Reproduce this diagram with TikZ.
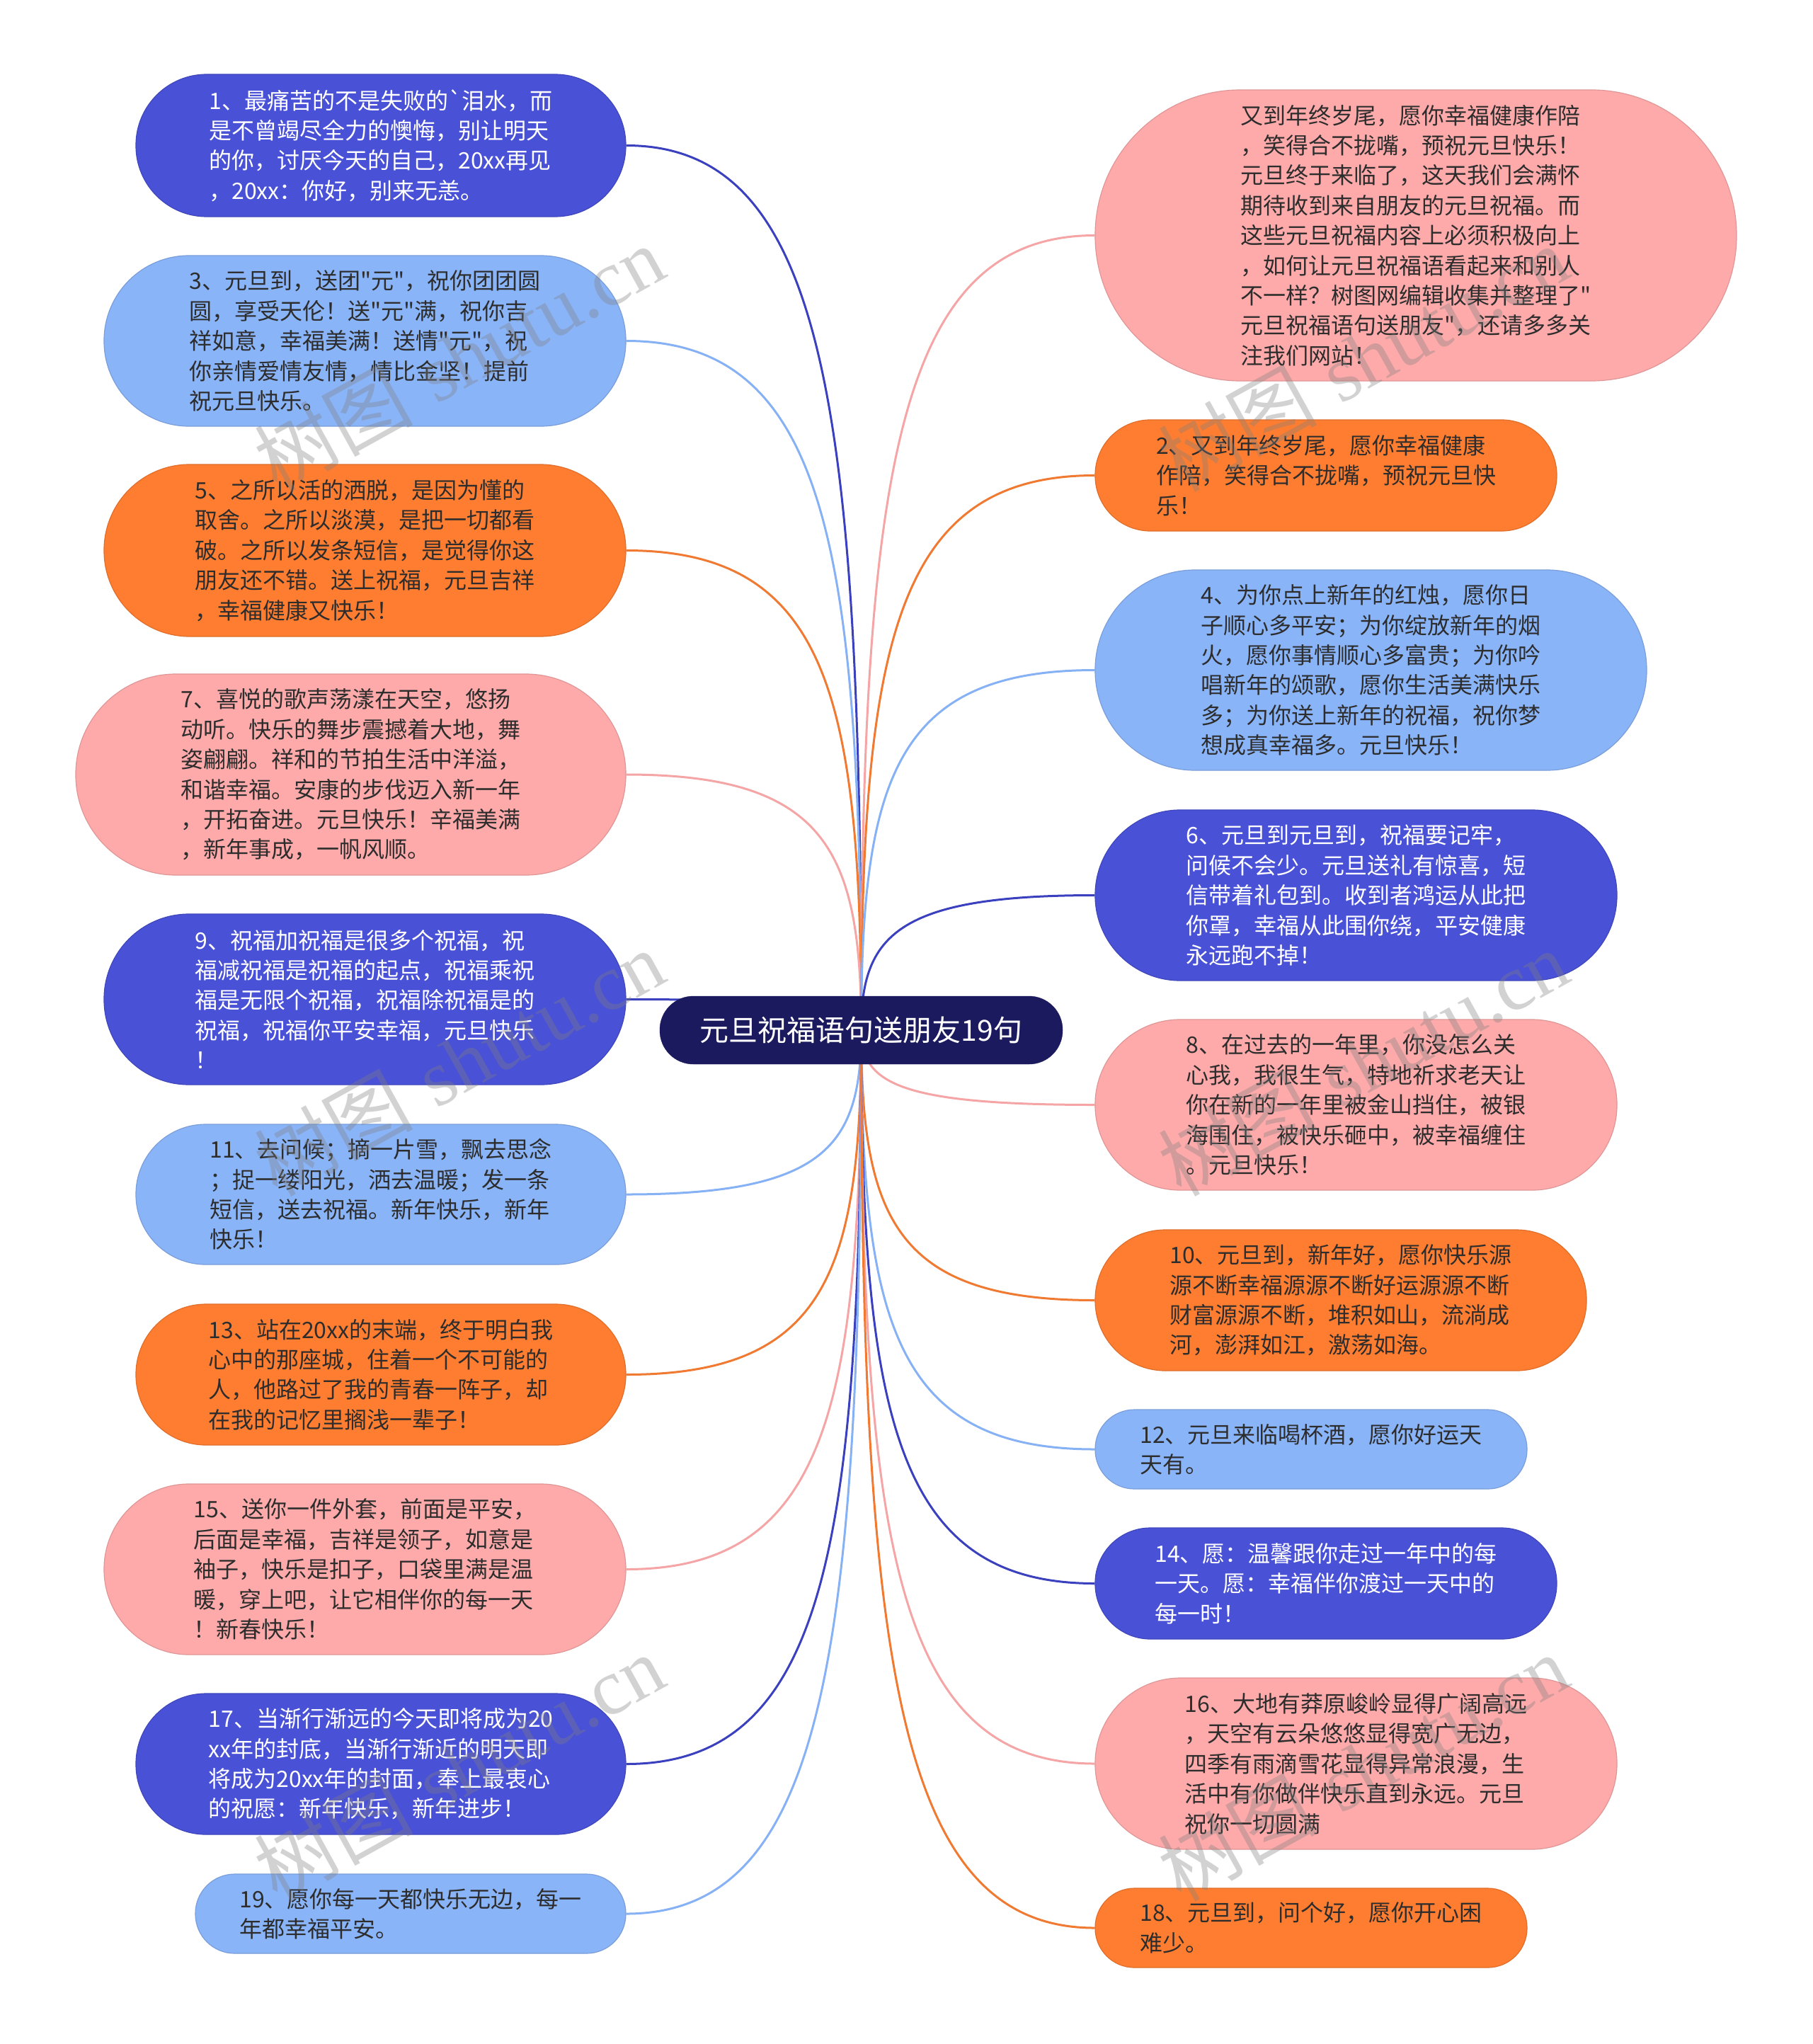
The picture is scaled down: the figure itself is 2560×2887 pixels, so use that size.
\documentclass[tikz,border=0pt]{standalone}
\usepackage{fontspec}
\newfontfamily\cjk{Noto Sans CJK SC}
\newfontfamily\wmserif{Liberation Serif}
\usetikzlibrary{calc}
\pgfdeclarelayer{bg}
\pgfdeclarelayer{fg}
\pgfsetlayers{bg,main,fg}
\definecolor{cdark}{RGB}{73,81,214}
\definecolor{clight}{RGB}{138,180,248}
\definecolor{corange}{RGB}{255,125,48}
\definecolor{cpink}{RGB}{255,170,170}
\definecolor{croot}{RGB}{28,26,94}
\definecolor{ctext}{RGB}{45,45,45}
\definecolor{ldark}{RGB}{58,64,190}
\definecolor{llight}{RGB}{135,177,245}
\definecolor{lorange}{RGB}{240,122,50}
\definecolor{lpink}{RGB}{245,165,165}
\tikzset{
  pill/.style={draw=#1!88!black, line width=1.2pt, fill=#1, inner sep=0pt,
    align=left, font=\cjk\fontsize{32}{42.4}\selectfont, text=ctext},
  darkpill/.style={pill=cdark, text=white},
  lightpill/.style={pill=clight},
  orangepill/.style={pill=corange},
  pinkpill/.style={pill=cpink},
  rootpill/.style={fill=croot, draw=croot, inner sep=0pt, text=white,
    font=\cjk\fontsize{41}{48}\selectfont},
  conn/.style={line width=3pt, draw=#1},
  wmark/.style={text=gray, opacity=0.35, rotate=29, inner sep=0pt,
    font=\fontsize{112}{120}\selectfont},
}
\newcommand\mmnode[7]{%
  \node[#6, minimum width=#4pt, minimum height=#5pt,
        rounded corners=0.5*#5pt-0.5pt] (#1) at (#2,#3) {#7};}
\newcommand\mmconnL[2]{%
  \coordinate (k#1) at (root.center |- #1.east);
  \draw[conn=#2] (root.center) .. controls ($(root.center)!0.7!(k#1)$)
    and ($(k#1)!0.15!(#1.east)$) .. (#1.east);}
\newcommand\mmconnR[2]{%
  \coordinate (k#1) at (root.center |- #1.west);
  \draw[conn=#2] (root.center) .. controls ($(root.center)!0.7!(k#1)$)
    and ($(k#1)!0.15!(#1.west)$) .. (#1.west);}
\begin{document}
\begin{tikzpicture}[x=1pt,y=-1pt]
\useasboundingbox (0,0) rectangle (2560,2887);
% root
\node[rootpill, minimum width=569pt, minimum height=96pt, rounded corners=47.5pt]
  (root) at (1216.5,1455) {元旦祝福语句送朋友19句};
% left column
\mmnode{n1}{538}{205.5}{692}{201}{darkpill}{1、最痛苦的不是失败的`泪水，而\\是不曾竭尽全力的懊悔，别让明天\\的你，讨厌今天的自己，20xx再见\\，20xx：你好，别来无恙。}
\mmnode{n3}{515.5}{481.5}{737}{241}{lightpill}{3、元旦到，送团"元"，祝你团团圆\\圆，享受天伦！送"元"满，祝你吉\\祥如意，幸福美满！送情"元"，祝\\你亲情爱情友情，情比金坚！提前\\祝元旦快乐。}
\mmnode{n5}{515.5}{777.5}{737}{243}{orangepill}{5、之所以活的洒脱，是因为懂的\\取舍。之所以淡漠，是把一切都看\\破。之所以发条短信，是觉得你这\\朋友还不错。送上祝福，元旦吉祥\\，幸福健康又快乐！}
\mmnode{n7}{495.5}{1094}{777}{284}{pinkpill}{7、喜悦的歌声荡漾在天空，悠扬\\动听。快乐的舞步震撼着大地，舞\\姿翩翩。祥和的节拍生活中洋溢，\\和谐幸福。安康的步伐迈入新一年\\，开拓奋进。元旦快乐！辛福美满\\，新年事成，一帆风顺。}
\mmnode{n9}{515.5}{1411.5}{737}{241}{darkpill}{9、祝福加祝福是很多个祝福，祝\\福减祝福是祝福的起点，祝福乘祝\\福是无限个祝福，祝福除祝福是的\\祝福，祝福你平安幸福，元旦快乐\\！}
\mmnode{n11}{538}{1687}{692}{198}{lightpill}{11、去问候；摘一片雪，飘去思念\\；捉一缕阳光，洒去温暖；发一条\\短信，送去祝福。新年快乐，新年\\快乐！}
\mmnode{n13}{538}{1941.5}{692}{199}{orangepill}{13、站在20xx的末端，终于明白我\\心中的那座城，住着一个不可能的\\人，他路过了我的青春一阵子，却\\在我的记忆里搁浅一辈子！}
\mmnode{n15}{515.5}{2216.5}{737}{241}{pinkpill}{15、送你一件外套，前面是平安，\\后面是幸福，吉祥是领子，如意是\\袖子，快乐是扣子，口袋里满是温\\暖，穿上吧，让它相伴你的每一天\\！新春快乐！}
\mmnode{n17}{538}{2491.5}{692}{199}{darkpill}{17、当渐行渐远的今天即将成为20\\xx年的封底，当渐行渐近的明天即\\将成为20xx年的封面，奉上最衷心\\的祝愿：新年快乐，新年进步！}
\mmnode{n19}{580}{2703}{608}{112}{lightpill}{19、愿你每一天都快乐无边，每一\\年都幸福平安。}
% right column
\mmnode{n0}{2000}{332.5}{906}{411}{pinkpill}{又到年终岁尾，愿你幸福健康作陪\\，笑得合不拢嘴，预祝元旦快乐！\\元旦终于来临了，这天我们会满怀\\期待收到来自朋友的元旦祝福。而\\这些元旦祝福内容上必须积极向上\\，如何让元旦祝福语看起来和别人\\不一样？树图网编辑收集并整理了"\\元旦祝福语句送朋友"，还请多多关\\注我们网站！}
\mmnode{n2}{1873}{671.5}{652}{157}{orangepill}{2、又到年终岁尾，愿你幸福健康\\作陪，笑得合不拢嘴，预祝元旦快\\乐！}
\mmnode{n4}{1936.5}{946.5}{779}{283}{lightpill}{4、为你点上新年的红烛，愿你日\\子顺心多平安；为你绽放新年的烟\\火，愿你事情顺心多富贵；为你吟\\唱新年的颂歌，愿你生活美满快乐\\多；为你送上新年的祝福，祝你梦\\想成真幸福多。元旦快乐！}
\mmnode{n6}{1915.5}{1264.5}{737}{241}{darkpill}{6、元旦到元旦到，祝福要记牢，\\问候不会少。元旦送礼有惊喜，短\\信带着礼包到。收到者鸿运从此把\\你罩，幸福从此围你绕，平安健康\\永远跑不掉！}
\mmnode{n8}{1915.5}{1560.5}{737}{241}{pinkpill}{8、在过去的一年里，你没怎么关\\心我，我很生气，特地祈求老天让\\你在新的一年里被金山挡住，被银\\海围住，被快乐砸中，被幸福缠住\\。元旦快乐！}
\mmnode{n10}{1894}{1836.5}{694}{199}{orangepill}{10、元旦到，新年好，愿你快乐源\\源不断幸福源源不断好运源源不断\\财富源源不断，堆积如山，流淌成\\河，澎湃如江，激荡如海。}
\mmnode{n12}{1852}{2047}{610}{112}{lightpill}{12、元旦来临喝杯酒，愿你好运天\\天有。}
\mmnode{n14}{1873}{2236.5}{652}{157}{darkpill}{14、愿：温馨跟你走过一年中的每\\一天。愿：幸福伴你渡过一天中的\\每一时！}
\mmnode{n16}{1915.5}{2491}{737}{242}{pinkpill}{16、大地有莽原峻岭显得广阔高远\\，天空有云朵悠悠显得宽广无边，\\四季有雨滴雪花显得异常浪漫，生\\活中有你做伴快乐直到永远。元旦\\祝你一切圆满}
\mmnode{n18}{1852}{2723}{610}{112}{orangepill}{18、元旦到，问个好，愿你开心困\\难少。}
% background and connectors
\begin{pgfonlayer}{bg}
\fill[white] (0,0) rectangle (2560,2887);
\mmconnL{n1}{ldark}
\mmconnL{n3}{llight}
\mmconnL{n5}{lorange}
\mmconnL{n7}{lpink}
\mmconnL{n9}{ldark}
\mmconnL{n11}{llight}
\mmconnL{n13}{lorange}
\mmconnL{n15}{lpink}
\mmconnL{n17}{ldark}
\mmconnL{n19}{llight}
\mmconnR{n0}{lpink}
\mmconnR{n2}{lorange}
\mmconnR{n4}{llight}
\mmconnR{n6}{ldark}
\mmconnR{n8}{lpink}
\mmconnR{n10}{lorange}
\mmconnR{n12}{llight}
\mmconnR{n14}{ldark}
\mmconnR{n16}{lpink}
\mmconnR{n18}{lorange}
\end{pgfonlayer}
% watermarks
\begin{pgfonlayer}{fg}
\node[wmark] (w1) at (648,506) {{\cjk 树图} {\wmserif shutu.cn}};
\node[wmark] (w2) at (648,1501) {{\cjk 树图} {\wmserif shutu.cn}};
\node[wmark] (w3) at (648,2496) {{\cjk 树图} {\wmserif shutu.cn}};
\node[wmark] (w4) at (1925,506) {{\cjk 树图} {\wmserif shutu.cn}};
\node[wmark] (w5) at (1925,1501) {{\cjk 树图} {\wmserif shutu.cn}};
\node[wmark] (w6) at (1925,2496) {{\cjk 树图} {\wmserif shutu.cn}};
\end{pgfonlayer}
\end{tikzpicture}
\end{document}
